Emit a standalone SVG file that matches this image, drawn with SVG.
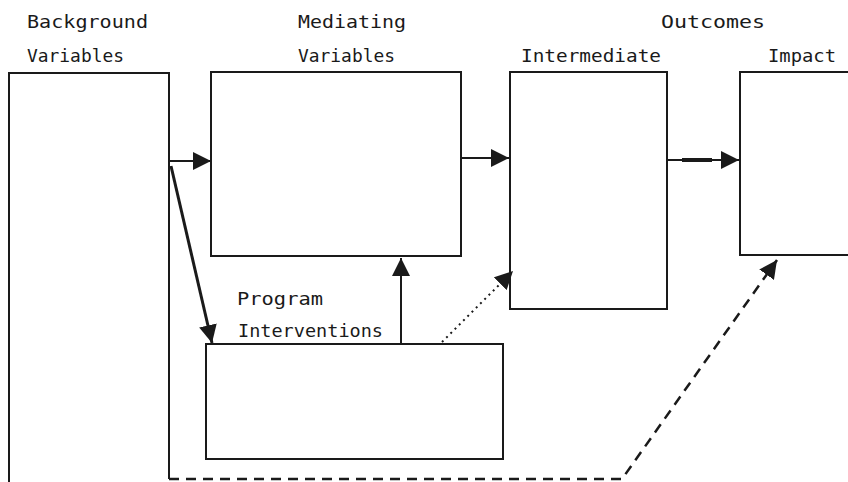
<svg xmlns="http://www.w3.org/2000/svg" width="848" height="482" viewBox="0 0 848 482">
<style>
.box{fill:#fff;stroke:#1a1a1a;stroke-width:2}
.lbl{font-family:"DejaVu Sans Mono","Liberation Mono",monospace;font-size:17px;fill:#1a1a1a}
.ln{fill:none;stroke:#1a1a1a;stroke-width:2}
</style>
<defs>
<marker id="ahb" viewBox="0 0 10 10" refX="10" refY="5" markerWidth="18" markerHeight="18" markerUnits="userSpaceOnUse" orient="auto"><path d="M0,0 L10,5 L0,10 z" fill="#1a1a1a"/></marker>
</defs>
<rect width="848" height="482" fill="#fff"/>
<g id="background">
<path class="ln" d="M9,482 V73 H169 V479"/>
<text class="lbl" x="27" y="28" textLength="121" lengthAdjust="spacingAndGlyphs">Background</text>
<text class="lbl" x="27" y="62" textLength="97" lengthAdjust="spacingAndGlyphs">Variables</text>
</g>
<g id="mediating">
<rect class="box" x="211" y="72" width="250" height="184"/>
<text class="lbl" x="298" y="28" textLength="108" lengthAdjust="spacingAndGlyphs">Mediating</text>
<text class="lbl" x="298" y="62" textLength="97" lengthAdjust="spacingAndGlyphs">Variables</text>
</g>
<g id="outcomes">
<text class="lbl" x="661" y="28" textLength="104" lengthAdjust="spacingAndGlyphs">Outcomes</text>
</g>
<g id="intermediate">
<rect class="box" x="510" y="72" width="157" height="237"/>
<text class="lbl" x="521" y="62" textLength="140" lengthAdjust="spacingAndGlyphs">Intermediate</text>
</g>
<g id="impact">
<path class="ln" d="M850,72 H740 V255 H850"/>
<text class="lbl" x="768" y="62" textLength="68" lengthAdjust="spacingAndGlyphs">Impact</text>
</g>
<g id="program">
<rect class="box" x="206" y="344" width="297" height="115"/>
<text class="lbl" x="237" y="305" textLength="86" lengthAdjust="spacingAndGlyphs">Program</text>
<text class="lbl" x="238" y="337" textLength="145" lengthAdjust="spacingAndGlyphs">Interventions</text>
</g>
<g id="connectors">
<line class="ln" x1="170" y1="161" x2="211" y2="161" marker-end="url(#ahb)"/>
<line class="ln" x1="461" y1="158" x2="509" y2="158" marker-end="url(#ahb)"/>
<line class="ln" x1="667" y1="160" x2="739" y2="160" marker-end="url(#ahb)"/>
<line x1="682" y1="160" x2="712" y2="160" stroke="#1a1a1a" stroke-width="4"/>
<line x1="171" y1="166" x2="212" y2="343" stroke="#1a1a1a" stroke-width="3" marker-end="url(#ahb)"/>
<line class="ln" x1="401" y1="344" x2="401" y2="258" marker-end="url(#ahb)"/>
<line x1="442" y1="342" x2="513" y2="271" stroke="#1a1a1a" stroke-width="2" stroke-dasharray="2,4" marker-end="url(#ahb)"/>
<path d="M169,479 H622 L777,260" fill="none" stroke="#1a1a1a" stroke-width="2.5" stroke-dasharray="10,7" marker-end="url(#ahb)"/>
</g>
</svg>
